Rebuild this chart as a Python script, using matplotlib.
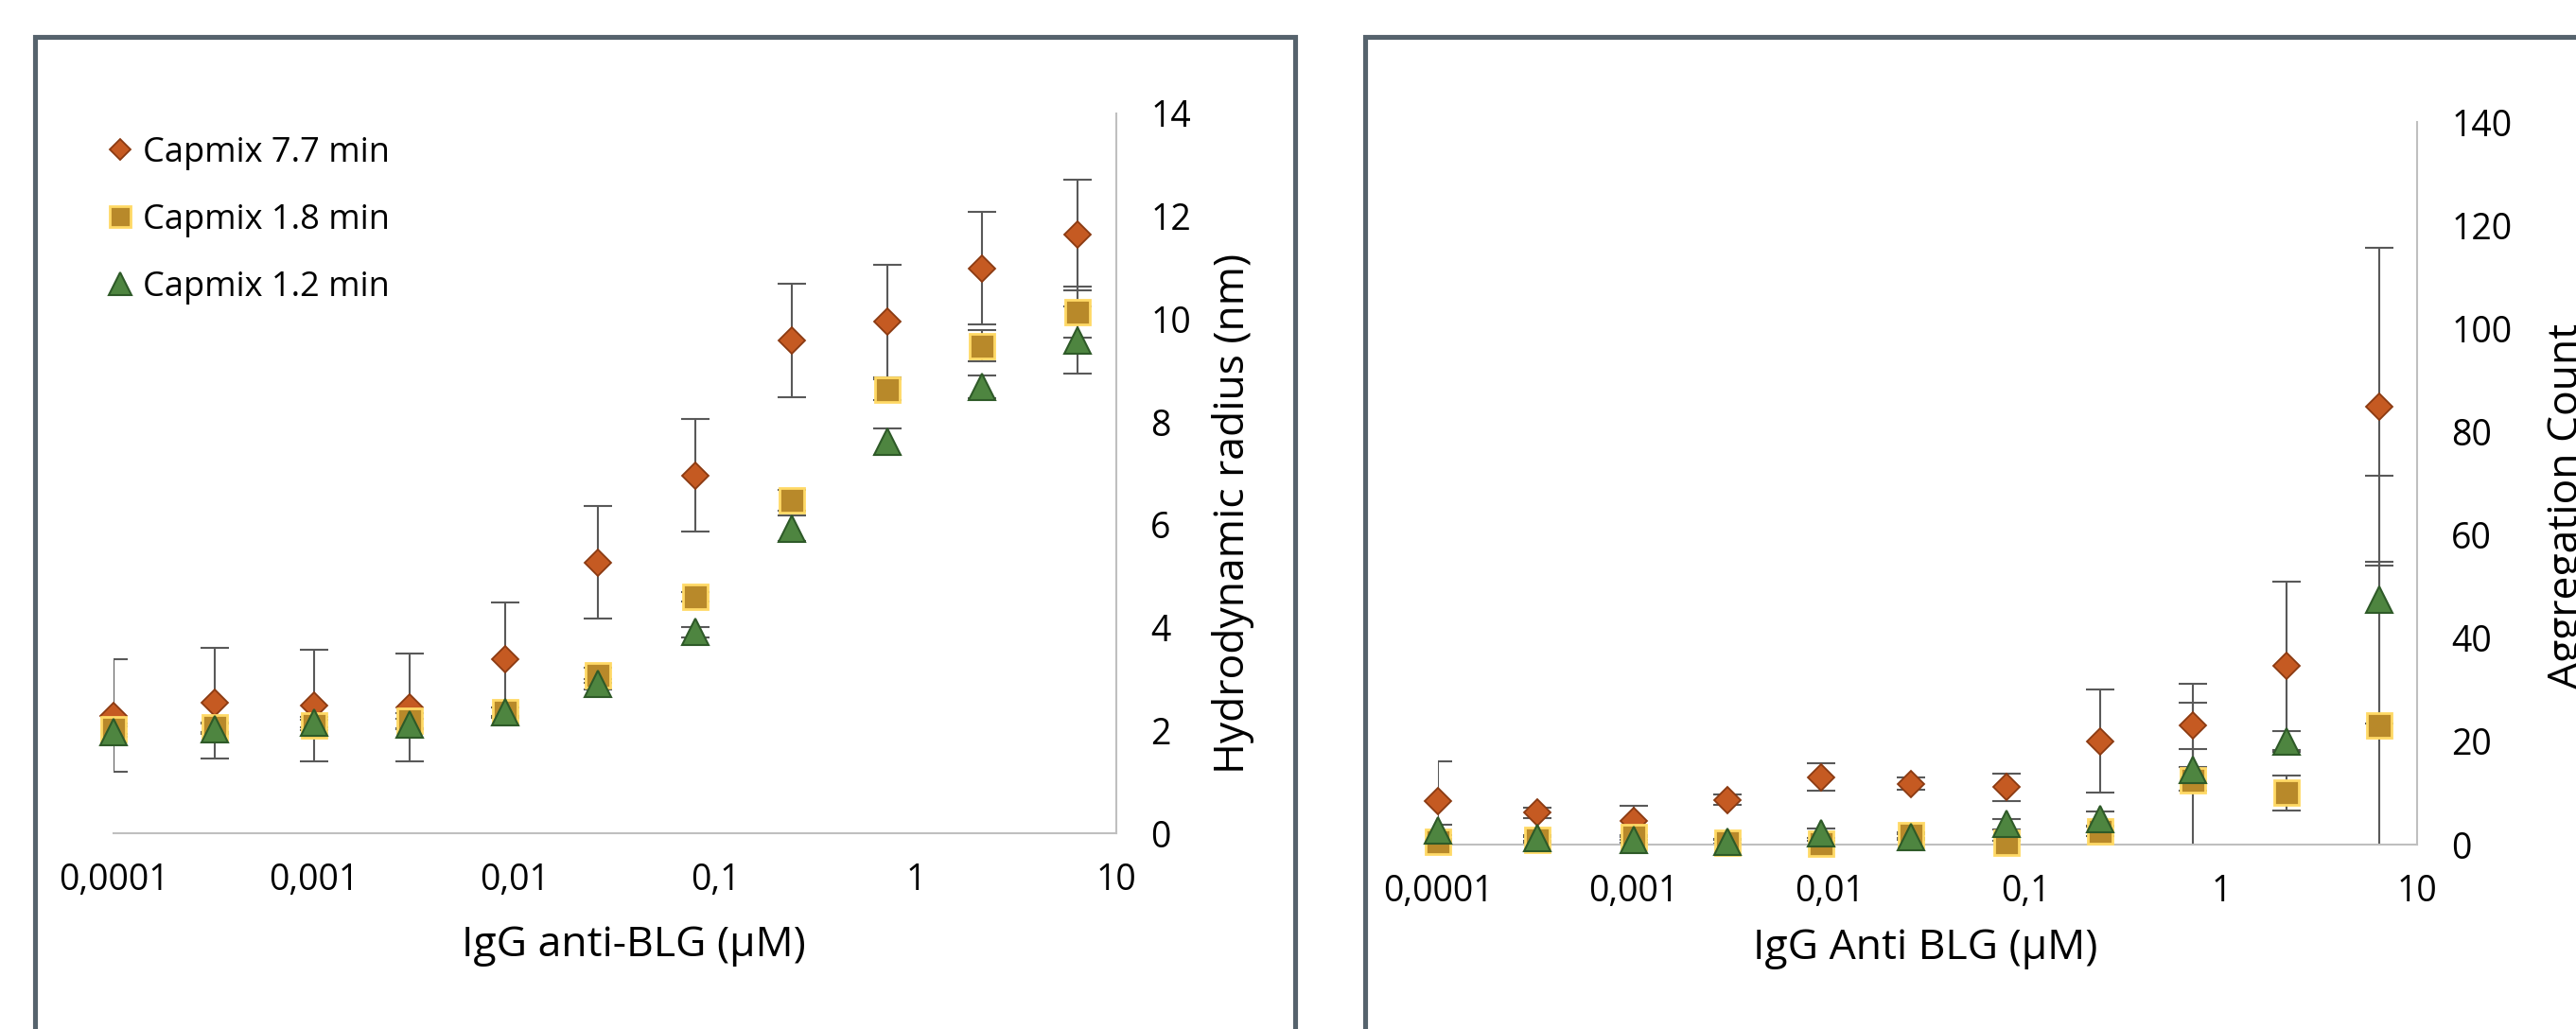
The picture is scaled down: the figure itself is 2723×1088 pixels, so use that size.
import matplotlib
matplotlib.use("Agg")
import matplotlib.pyplot as plt
from matplotlib.lines import Line2D
from matplotlib.patches import Rectangle
from matplotlib.ticker import FixedLocator, FixedFormatter

# concentrations IgG anti-BLG (µM)
conc = [0.0001, 0.00032, 0.001, 0.003, 0.009, 0.026, 0.08, 0.24, 0.72, 2.15, 6.4]

# hydrodynamic radius (nm)
rh_77 = [2.29, 2.53, 2.48, 2.45, 3.39, 5.27, 6.96, 9.58, 9.96, 10.99, 11.64]
rh_77_err = [1.1, 1.07, 1.08, 1.05, 1.1, 1.1, 1.1, 1.1, 1.1, 1.1, 1.08]
rh_18 = [2.03, 2.06, 2.1, 2.19, 2.35, 3.07, 4.6, 6.48, 8.63, 9.48, 10.14]
rh_18_err = [0.1, 0.1, 0.1, 0.15, 0.1, 0.15, 0.1, 0.2, 0.2, 0.3, 0.5]
rh_12 = [1.97, 2.03, 2.16, 2.12, 2.35, 2.9, 3.91, 5.93, 7.62, 8.68, 9.59]
rh_12_err = [0.1, 0.1, 0.1, 0.1, 0.1, 0.1, 0.1, 0.25, 0.26, 0.22, 0.65]

# aggregation count
ag_77 = [8.5, 6.2, 4.5, 8.65, 13.1, 11.8, 11.1, 20.0, 23.1, 34.6, 84.9]
ag_77_err = [7.7, 1.0, 3.0, 1.0, 2.6, 1.2, 2.6, 10.0, 8.0, 16.3, 30.8]
ag_18 = [0.6, 0.9, 1.4, 0.4, 0.2, 1.8, 0.3, 2.6, 12.5, 10.0, 23.1]
ag_18_err = [0.5, 0.5, 0.5, 0.5, 0.5, 0.5, 0.5, 1.0, 15.0, 3.4, 31.7]
ag_12 = [2.8, 1.3, 0.9, 0.6, 2.2, 1.5, 4.0, 4.9, 14.5, 20.0, 47.4]
ag_12_err = [1.0, 0.5, 0.5, 0.5, 1.0, 0.5, 1.0, 1.5, 4.0, 2.0, 24.0]

series_labels = ['Capmix 7.7 min', 'Capmix 1.8 min', 'Capmix 1.2 min']
x_ticks = [0.0001, 0.001, 0.01, 0.1, 1, 10]
x_ticklabels = ['0,0001', '0,001', '0,01', '0,1', '1', '10']

W, H = 2723, 1088
FONT = 'Open Sans'
styles = [
    dict(marker='D', ms=14.5, mfc='#C55A22', mec='#8A3A12', mew=1.3),
    dict(marker='s', ms=19, mfc='#B8892A', mec='#FFD966', mew=2.0),
    dict(marker='^', ms=20, mfc='#4E8540', mec='#2E5A28', mew=1.5),
]
legend_ms = [11.7, 15.5, 17.5]
err_kw = dict(ecolor='#595959', elinewidth=1.5, capsize=10.5, capthick=1.5, linestyle='none')

fig = plt.figure(figsize=(W / 100, H / 100), dpi=100)


def fx(px):
    return px / W


def fy(py):
    return 1 - py / H


def style_axes(ax, ymax, ystep):
    ax.set_xscale('log')
    ax.set_xlim(0.0001, 10)
    ax.set_ylim(0, ymax)
    ax.xaxis.set_major_locator(FixedLocator(x_ticks))
    ax.xaxis.set_major_formatter(FixedFormatter(x_ticklabels))
    ax.xaxis.set_minor_locator(FixedLocator([]))
    ax.set_yticks(range(0, ymax + 1, ystep))
    ax.yaxis.tick_right()
    for s in ['left', 'top']:
        ax.spines[s].set_visible(False)
    for s in ['bottom', 'right']:
        ax.spines[s].set_color('#BFBFBF')
        ax.spines[s].set_linewidth(1.5)
    ax.tick_params(axis='both', length=0, labelsize=27, labelcolor='black')
    ax.tick_params(axis='y', pad=26)
    ax.tick_params(axis='x', pad=22)
    for lab in ax.get_xticklabels() + ax.get_yticklabels():
        lab.set_fontfamily(FONT)
    ax.patch.set_alpha(0)


def draw(ax, ys, errs):
    for y, e, st in zip(ys, errs, styles):
        ax.errorbar(conc, y, yerr=e, zorder=2, **err_kw)
        ax.plot(conc, y, linestyle='none', zorder=3, clip_on=False, **st)


# panel borders
fig.add_artist(Rectangle((fx(36.5), -0.2), fx(1368.5) - fx(36.5), fy(39.5) + 0.2,
                         transform=fig.transFigure, fill=False, ec='#56636D', lw=3.7))
fig.add_artist(Rectangle((fx(1442.5), -0.2), 0.6, fy(39.5) + 0.2,
                         transform=fig.transFigure, fill=False, ec='#56636D', lw=3.7))

ax1 = fig.add_axes([fx(120), fy(881), fx(1180) - fx(120), fy(120) - fy(881)])
style_axes(ax1, 14, 2)
draw(ax1, [rh_77, rh_18, rh_12], [rh_77_err, rh_18_err, rh_12_err])

ax2 = fig.add_axes([fx(1520), fy(893), fx(2555) - fx(1520), fy(129) - fy(893)])
style_axes(ax2, 140, 20)
draw(ax2, [ag_77, ag_18, ag_12], [ag_77_err, ag_18_err, ag_12_err])

# axis titles
fig.text(fx(670), fy(1000), 'IgG anti-BLG (µM)', ha='center', va='center',
         fontsize=32, family=FONT)
fig.text(fx(1303), fy(543), 'Hydrodynamic radius (nm)', ha='center', va='center',
         rotation=90, fontsize=32, family=FONT)
fig.text(fx(2035), fy(1003), 'IgG Anti BLG (µM)', ha='center', va='center',
         fontsize=32, family=FONT)
fig.text(fx(2714), fy(535), 'Aggregation Count', ha='center', va='center',
         rotation=90, fontsize=32, family=FONT)

# legend
handles = [Line2D([], [], linestyle='none', marker=st['marker'], mfc=st['mfc'], mec=st['mec'],
                  mew=st['mew'], ms=ms) for st, ms in zip(styles, legend_ms)]
ax1.legend(handles, series_labels, loc='upper left', bbox_to_anchor=(fx(113), fy(144)),
           bbox_transform=fig.transFigure, frameon=False, handlelength=0.8, handletextpad=0.25,
           labelspacing=0.97, borderpad=0, borderaxespad=0,
           prop={'family': FONT, 'size': 26})

fig.savefig('out.png', dpi=100)
